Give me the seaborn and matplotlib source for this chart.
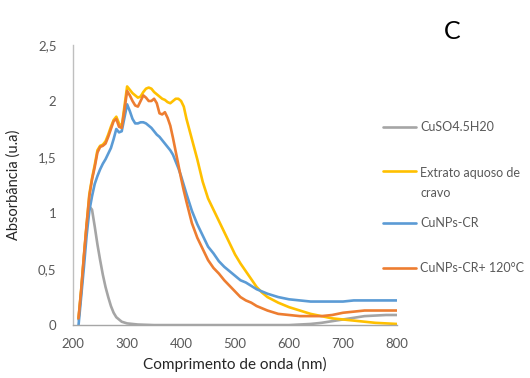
import numpy as np
import pandas as pd
import matplotlib
matplotlib.use("Agg")
import matplotlib.pyplot as plt
import seaborn as sns

# UV-Vis absorbance spectra (wavelength in nm, absorbance in a.u.)
series_names = ["CuSO4.5H20", "Extrato aquoso de\ncravo", "CuNPs-CR", "CuNPs-CR+ 120°C"]
series_colors = ["#A5A5A5", "#FFC000", "#5B9BD5", "#ED7D31"]

wl_cuso4 = [210, 215, 220, 225, 230, 235, 240, 245, 250, 255, 260, 265, 270, 275,
            280, 285, 290, 300, 320, 350, 400, 500, 600, 620, 640, 660, 680, 700,
            720, 740, 760, 780, 800]
abs_cuso4 = [0.05, 0.30, 0.60, 0.88, 1.06, 1.03, 0.88, 0.72, 0.58, 0.45, 0.34, 0.25,
             0.17, 0.11, 0.07, 0.05, 0.03, 0.015, 0.005, 0.0, 0.0, 0.0, 0.0, 0.005,
             0.01, 0.02, 0.035, 0.05, 0.065, 0.08, 0.085, 0.09, 0.09]

wl_fine = [210, 215, 220, 225, 230, 235, 240, 245, 250, 255, 260, 265, 270, 275,
           280, 285, 290, 295, 300, 305, 310, 315, 320, 325, 330, 335, 340, 345,
           350, 355, 360, 365, 370, 375, 380, 385, 390, 395, 400, 405, 410, 420,
           430, 440, 450, 460, 470, 480, 490, 500, 510, 520, 530, 540, 550, 560,
           580, 600, 620, 640, 660, 680, 700, 720, 740, 760, 780, 800]

abs_extrato = [0.06, 0.32, 0.62, 0.90, 1.17, 1.31, 1.43, 1.56, 1.60, 1.61, 1.64, 1.70,
               1.77, 1.83, 1.86, 1.80, 1.77, 1.95, 2.13, 2.10, 2.07, 2.05, 2.03, 2.04,
               2.08, 2.11, 2.12, 2.11, 2.08, 2.06, 2.04, 2.02, 2.01, 1.99, 1.98, 2.00,
               2.02, 2.02, 2.00, 1.95, 1.84, 1.66, 1.48, 1.28, 1.13, 1.03, 0.93, 0.83,
               0.73, 0.63, 0.55, 0.48, 0.41, 0.34, 0.29, 0.25, 0.20, 0.16, 0.13, 0.10,
               0.08, 0.06, 0.05, 0.04, 0.03, 0.02, 0.015, 0.01]

abs_cunps = [0.0, 0.26, 0.52, 0.80, 1.02, 1.15, 1.26, 1.33, 1.39, 1.44, 1.48, 1.53,
             1.58, 1.66, 1.75, 1.72, 1.73, 1.85, 1.97, 1.91, 1.84, 1.80, 1.80, 1.81,
             1.81, 1.80, 1.78, 1.76, 1.73, 1.70, 1.68, 1.65, 1.62, 1.59, 1.56, 1.52,
             1.46, 1.40, 1.33, 1.25, 1.17, 1.02, 0.90, 0.80, 0.70, 0.64, 0.57, 0.52,
             0.48, 0.44, 0.40, 0.38, 0.35, 0.32, 0.30, 0.28, 0.25, 0.23, 0.22, 0.21,
             0.21, 0.21, 0.21, 0.22, 0.22, 0.22, 0.22, 0.22]

abs_cunps_120 = [0.06, 0.32, 0.62, 0.90, 1.15, 1.30, 1.41, 1.54, 1.59, 1.60, 1.62, 1.68,
                 1.75, 1.82, 1.84, 1.77, 1.76, 1.92, 2.09, 2.05, 2.00, 1.96, 1.95, 2.00,
                 2.05, 2.03, 2.00, 2.00, 2.02, 1.98, 1.89, 1.88, 1.90, 1.85, 1.78, 1.67,
                 1.55, 1.43, 1.31, 1.20, 1.10, 0.91, 0.78, 0.68, 0.58, 0.51, 0.46, 0.40,
                 0.35, 0.30, 0.25, 0.22, 0.20, 0.17, 0.15, 0.13, 0.10, 0.09, 0.08, 0.08,
                 0.08, 0.09, 0.11, 0.12, 0.13, 0.13, 0.13, 0.13]

x_ticks = [200, 300, 400, 500, 600, 700, 800]
y_ticks = [0, 0.5, 1, 1.5, 2, 2.5]
y_tick_labels = ["0", "0,5", "1", "1,5", "2", "2,5"]

frames = [
    pd.DataFrame({"wl": wl_cuso4, "abs": abs_cuso4, "amostra": series_names[0]}),
    pd.DataFrame({"wl": wl_fine, "abs": abs_extrato, "amostra": series_names[1]}),
    pd.DataFrame({"wl": wl_fine, "abs": abs_cunps, "amostra": series_names[2]}),
    pd.DataFrame({"wl": wl_fine, "abs": abs_cunps_120, "amostra": series_names[3]}),
]
df = pd.concat(frames, ignore_index=True)

sns.set_style("white")
plt.rcParams["font.family"] = ["Lato", "DejaVu Sans"]

fig = plt.figure(figsize=(5.3, 3.78), dpi=100)
ax = fig.add_axes([0.138, 0.140, 0.611, 0.741])

sns.lineplot(data=df, x="wl", y="abs", hue="amostra", hue_order=series_names,
             palette=series_colors, estimator=None, sort=False, linewidth=1.9,
             ax=ax)

ax.set_xlim(200, 800)
ax.set_ylim(0, 2.5)
ax.set_xticks(x_ticks)
ax.set_xticklabels([str(t) for t in x_ticks])
ax.set_yticks(y_ticks)
ax.set_yticklabels(y_tick_labels)
ax.tick_params(axis="both", length=0, labelsize=9.5, labelcolor="#595959")
ax.tick_params(axis="y", pad=12)
ax.tick_params(axis="x", pad=9)

for side in ["top", "right"]:
    ax.spines[side].set_visible(False)
ax.spines["left"].set_color("#BFBFBF")
ax.spines["bottom"].set_color("#A6A6A6")
ax.spines["left"].set_linewidth(1.0)
ax.spines["bottom"].set_linewidth(1.0)

ax.set_xlabel("Comprimento de onda (nm)", fontsize=11, color="#262626", labelpad=5)
ax.set_ylabel("Absorbância (u.a)", fontsize=10.5, color="#262626", labelpad=12)

# Legend in two stacked blocks so the wrapped entry keeps the even spacing
handles, labels = ax.get_legend_handles_labels()
legend_kw = dict(loc="upper left", bbox_transform=fig.transFigure, frameon=False,
                 fontsize=9, labelcolor="#595959", handlelength=2.7,
                 handletextpad=0.3, labelspacing=2.68, borderpad=0,
                 borderaxespad=0)

leg_top = ax.legend(handles[:2], labels[:2], bbox_to_anchor=(0.722, 0.679),
                    **legend_kw)
leg_top.get_texts()[1].set_linespacing(1.8)
# keep the key of the two-line entry level with its first line
for column in leg_top._legend_handle_box.get_children():
    for item in column.get_children():
        texts = [c for c in item.get_children() if hasattr(c, "get_text")]
        if any("\n" in t.get_text() for t in texts):
            item.align = "top"
ax.add_artist(leg_top)

ax.legend(handles[2:], labels[2:], bbox_to_anchor=(0.722, 0.426), **legend_kw)

fig.text(0.853, 0.917, "C", fontsize=18, color="black", ha="center", va="center")

fig.savefig("out.png", dpi=100, facecolor="white")
